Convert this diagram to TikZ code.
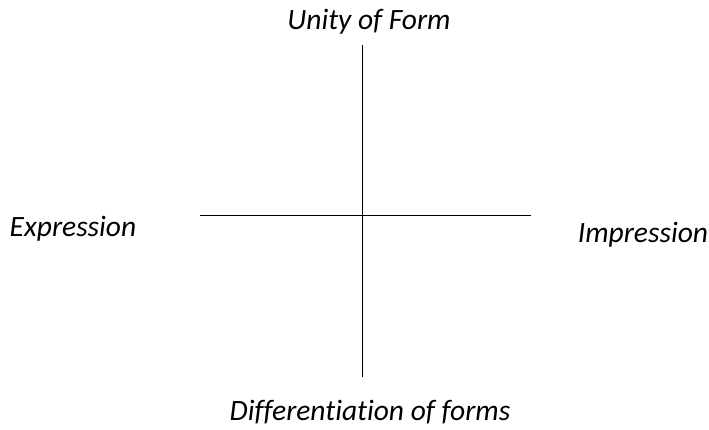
\documentclass[tikz,border=0pt]{standalone}
\usepackage{fontspec}
\setmainfont{Carlito}[Ligatures={NoCommon}]
\usepackage{tikz}
\usetikzlibrary{positioning}

\begin{document}
\begin{tikzpicture}[x=1pt, y=-1pt]
        \useasboundingbox (0,0) rectangle (709,430);
        \tikzset{pole/.style={font=\fontsize{29.5}{34}\selectfont\itshape, inner sep=0pt}}
        \node[pole] (unity) at (369, 22) {Unity of Form};
        \node[pole] (expr) at (73, 229) {Expression};
        \node[pole] (impr) at (643, 235) {Impression};
        \node[pole] (diff) at (370, 412) {Differentiation of forms};
        \coordinate (top) at (362, 45);
        \coordinate (bottom) at (362, 377);
        \coordinate (left) at (200, 216);
        \coordinate (right) at (531, 216);
        \draw[line width=1pt] (top) -- (bottom);
        \draw[line width=1pt] (left) -- (right);
    \end{tikzpicture}
\end{document}
